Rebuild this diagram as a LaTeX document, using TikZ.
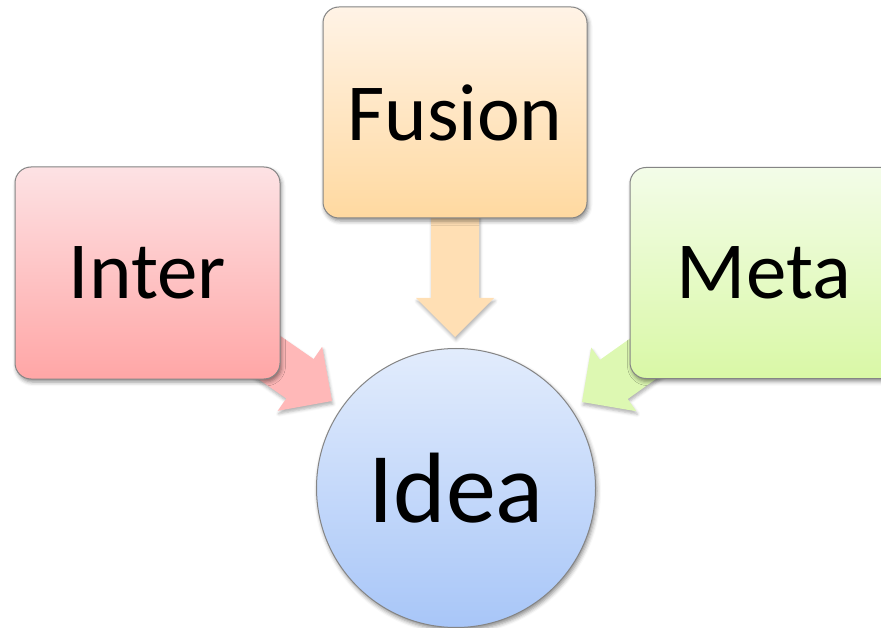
\documentclass[tikz,border=0pt]{standalone}
\usepackage{fontspec}
\setmainfont{Carlito}
\usetikzlibrary{calc,shadows.blur}
\definecolor{boxline}{HTML}{858585}
\definecolor{interTop}{HTML}{FDE2E4}
\definecolor{interBot}{HTML}{FFA6A6}
\definecolor{fusionTop}{HTML}{FFF3E6}
\definecolor{fusionBot}{HTML}{FFD9A0}
\definecolor{metaTop}{HTML}{F3FCE8}
\definecolor{metaBot}{HTML}{D9F8A6}
\definecolor{ideaTop}{HTML}{E2ECFC}
\definecolor{ideaBot}{HTML}{A8C6F8}
\definecolor{interArrow}{HTML}{FFB8B8}
\definecolor{fusionArrow}{HTML}{FFDFB4}
\definecolor{metaArrow}{HTML}{DDF8B2}
\newcommand\flowarrow[3]{%
  \coordinate (fm) at ($(#3)!39pt!(#2)$);
  \fill[#1, blur shadow={shadow xshift=1pt, shadow yshift=-3pt, shadow blur radius=3pt, shadow opacity=30}]
    ($(#2)!24pt!90:(#3)$) -- ($(fm)!24pt!90:(#3)$) -- ($(fm)!39pt!90:(#3)$) -- (#3)
    -- ($(fm)!39pt!-90:(#3)$) -- ($(fm)!24pt!-90:(#3)$) -- ($(#2)!24pt!-90:(#3)$) -- cycle;}
\begin{document}
\begin{tikzpicture}[x=1pt,y=-1pt,
  box/.style={draw=boxline, line width=1pt, rounded corners=16pt, inner sep=0pt,
    blur shadow={shadow xshift=1.5pt, shadow yshift=-3pt, shadow blur radius=4pt, shadow opacity=45},
    font=\fontsize{81}{90}\selectfont},
  idea/.style={circle, draw=boxline, line width=1pt, inner sep=0pt, minimum size=279pt,
    blur shadow={shadow xshift=1.5pt, shadow yshift=-3pt, shadow blur radius=4pt, shadow opacity=45},
    font=\fontsize{100}{110}\selectfont}]
\useasboundingbox (0,0) rectangle (881,628);
\clip (0,0) rectangle (881,628);
\coordinate (interC) at (147.5,273);
\coordinate (fusionC) at (455,112.5);
\coordinate (metaC) at (764,273);
\coordinate (tipI) at (332,401);
\coordinate (tipF) at (455,337);
\coordinate (tipM) at (582,402);
\flowarrow{interArrow}{interC}{tipI}
\flowarrow{fusionArrow}{fusionC}{tipF}
\flowarrow{metaArrow}{metaC}{tipM}
\node[box, minimum width=265pt, minimum height=212pt, top color=interTop, bottom color=interBot] (inter) at (interC) {Inter};
\node[box, minimum width=264pt, minimum height=211pt, top color=fusionTop, bottom color=fusionBot] (fusion) at (fusionC) {Fusion};
\node[box, minimum width=268pt, minimum height=211pt, top color=metaTop, bottom color=metaBot] (meta) at (metaC) {Meta};
\node[idea, top color=ideaTop, bottom color=ideaBot] (ideanode) at (456,488) {Idea};
\end{tikzpicture}
\end{document}
